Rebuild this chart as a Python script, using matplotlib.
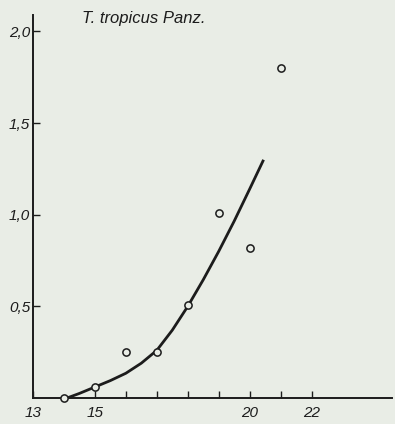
import matplotlib
matplotlib.use("Agg")
import matplotlib.pyplot as plt

# Observed data points (temperature, value)
point_x = [14.0, 15.0, 16.0, 17.0, 18.0, 19.0, 20.0, 21.0]
point_y = [0.0, 0.06, 0.25, 0.25, 0.51, 1.01, 0.82, 1.80]

# Fitted curve
curve_x = [14.1, 14.5, 15.0, 15.5, 16.0, 16.5, 17.0, 17.5, 18.0, 18.5, 19.0, 19.5, 20.0, 20.45]
curve_y = [0.0, 0.025, 0.06, 0.095, 0.135, 0.19, 0.26, 0.37, 0.50, 0.645, 0.80, 0.965, 1.14, 1.30]

x_ticks = [13, 15, 16, 17, 18, 19, 20, 21, 22]
x_tick_labels = ["13", "15", "", "", "", "", "20", "", "22"]
y_ticks = [0.5, 1.0, 1.5, 2.0]
y_tick_labels = ["0,5", "1,0", "1,5", "2,0"]
title = "T. tropicus Panz."

bg = "#e9ede6"
ink = "#1c1c1c"
font = ["Liberation Sans", "DejaVu Sans"]

fig = plt.figure(figsize=(3.95, 4.24), dpi=100, facecolor=bg)
ax = fig.add_axes([33/395, 1 - 398/424, (392 - 33)/395, (398 - 15)/424])
ax.set_facecolor(bg)

ax.plot(curve_x, curve_y, color=ink, lw=2.0, solid_capstyle="butt",
        solid_joinstyle="round", zorder=2)
ax.plot(point_x, point_y, linestyle="none", marker="o", markersize=5.2,
        markerfacecolor=bg, markeredgecolor=ink, markeredgewidth=1.1, zorder=3,
        clip_on=False)

ax.set_xlim(13, 24.6)
ax.set_ylim(0, 2.09)

for s in ["top", "right"]:
    ax.spines[s].set_visible(False)
for s in ["left", "bottom"]:
    ax.spines[s].set_linewidth(1.4)
    ax.spines[s].set_color(ink)

ax.set_xticks(x_ticks)
ax.set_xticklabels(x_tick_labels, fontsize=11, style="italic", family=font, color=ink)
ax.set_yticks(y_ticks)
ax.set_yticklabels(y_tick_labels, fontsize=11, style="italic", family=font, color=ink)
ax.tick_params(axis="x", direction="in", length=5, width=1.0, color=ink, pad=6)
ax.tick_params(axis="y", direction="in", length=5, width=1.0, color=ink, pad=2)

fig.text(82/395, 1 - 18/424, title, ha="left", va="center", fontsize=12,
         style="italic", family=font, color=ink)

fig.savefig("out.png", dpi=100, facecolor=bg)
